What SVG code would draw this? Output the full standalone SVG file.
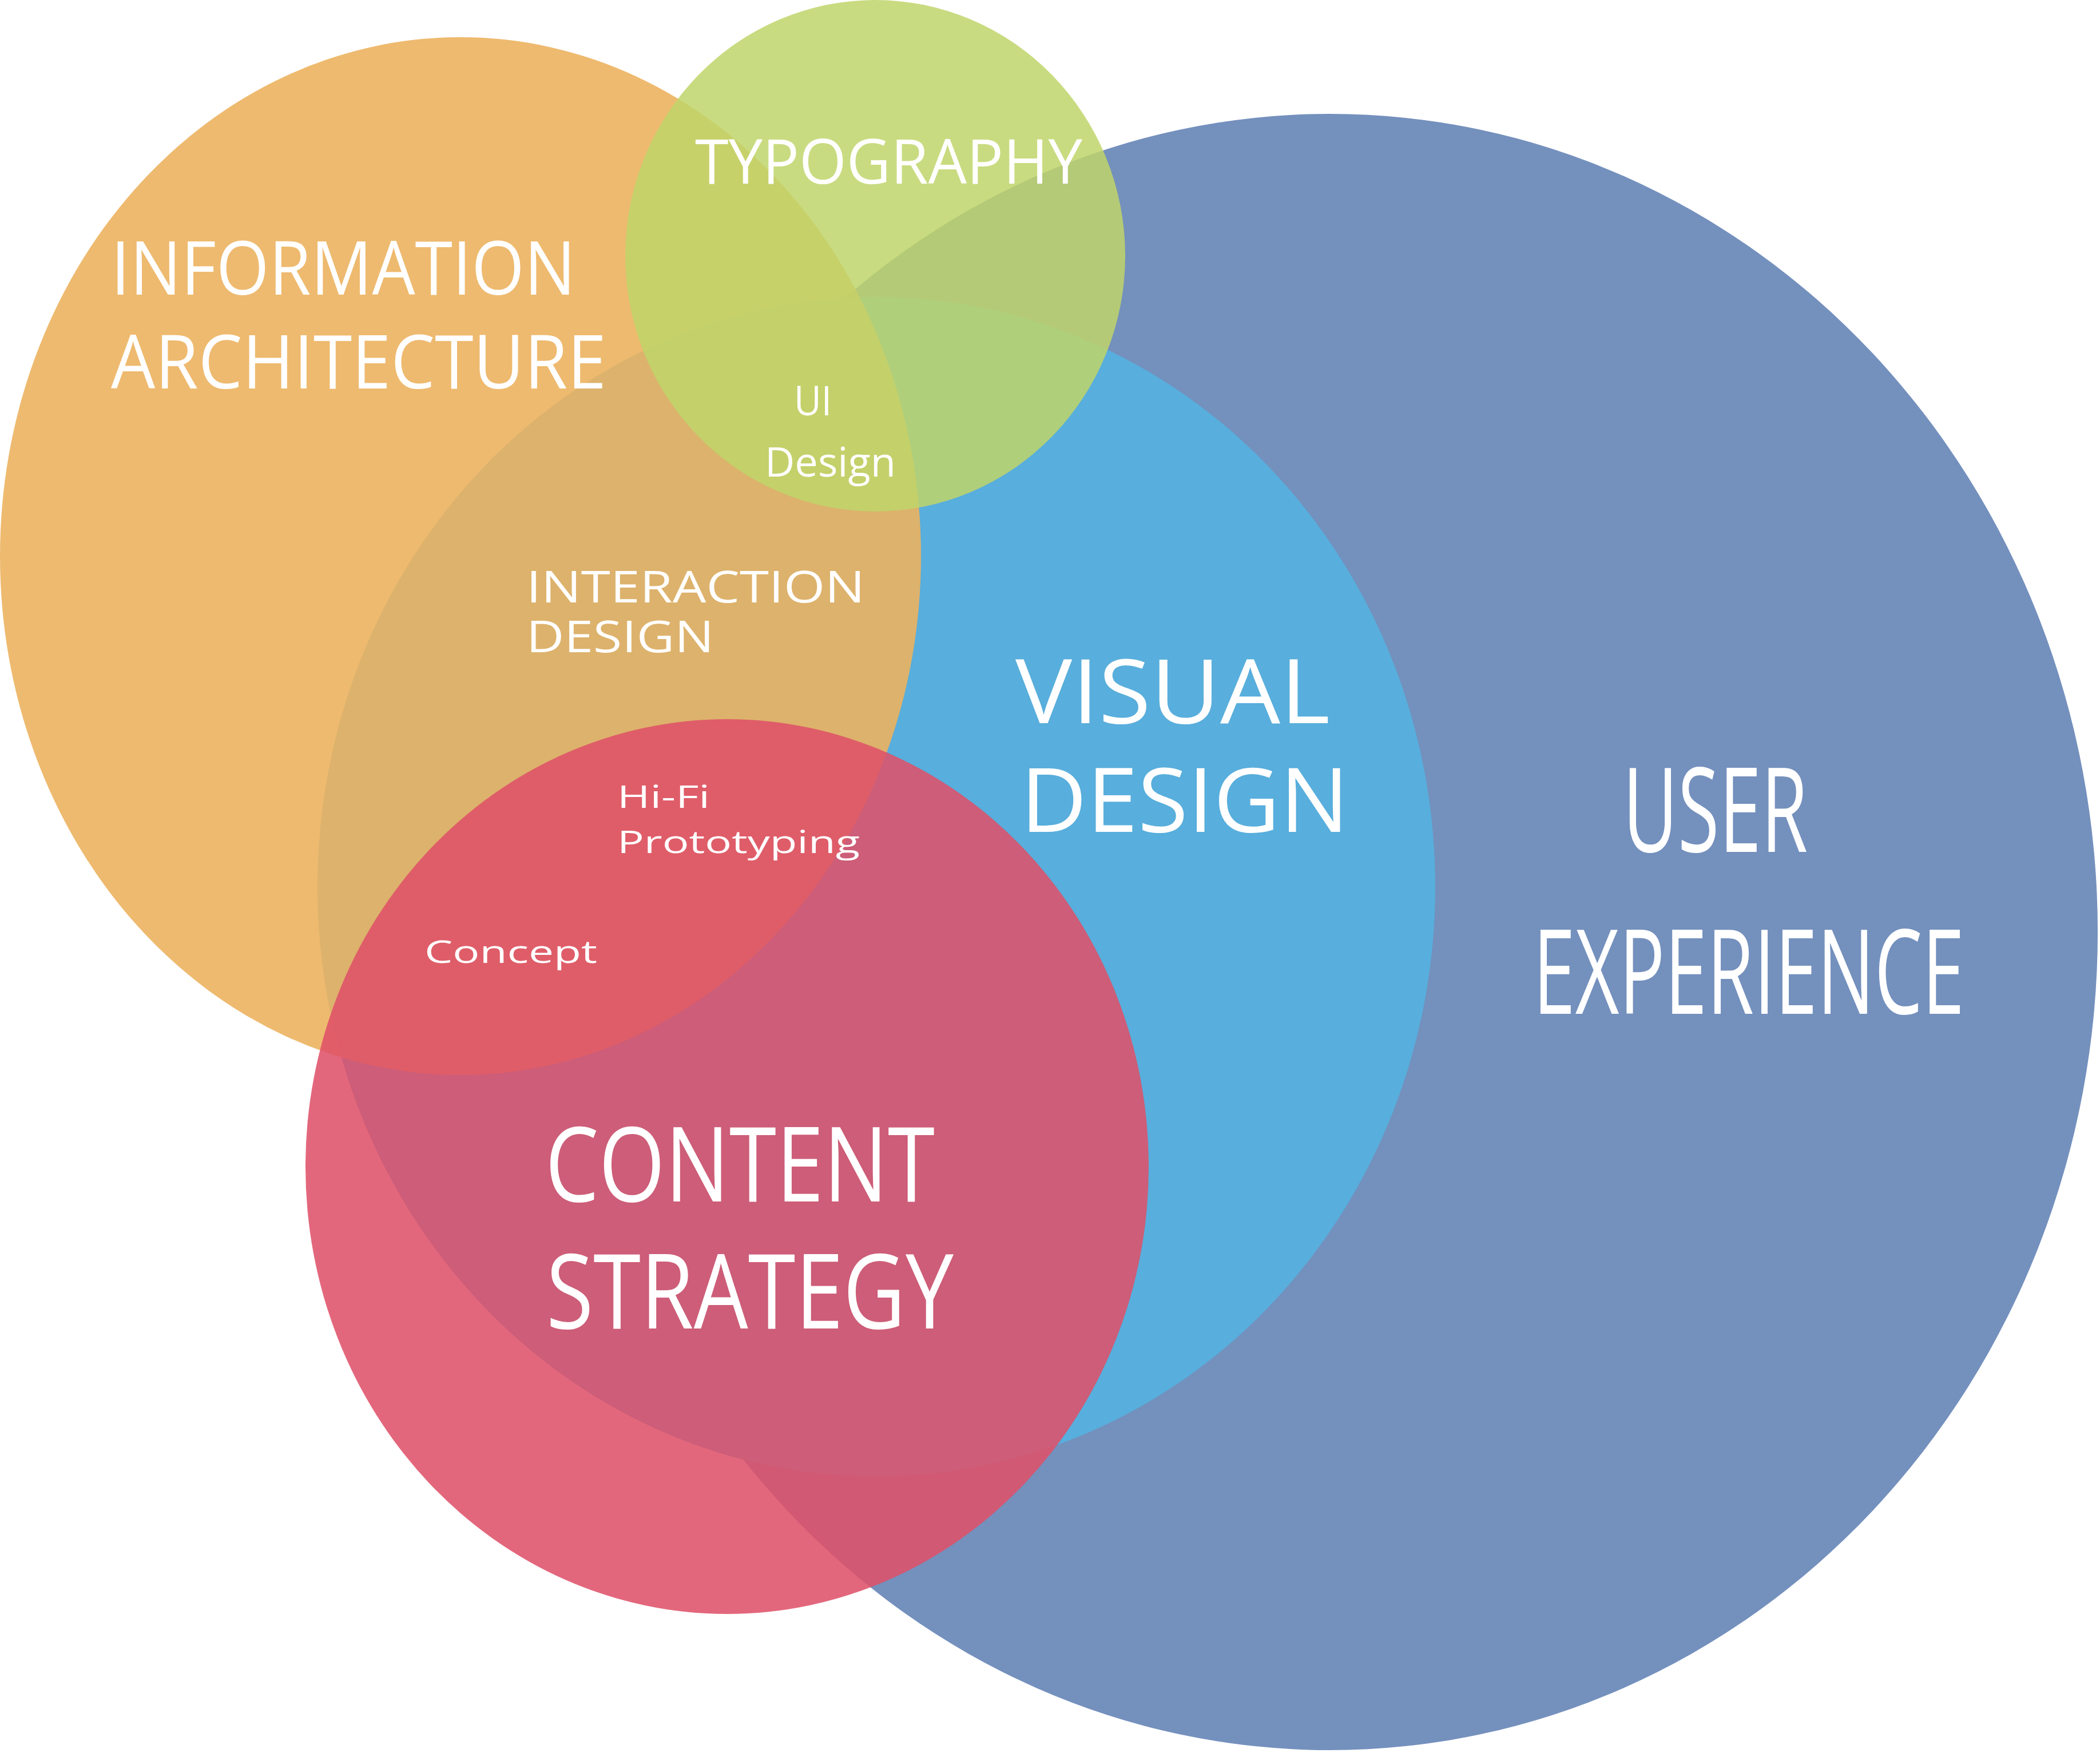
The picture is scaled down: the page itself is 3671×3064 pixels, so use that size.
<svg xmlns="http://www.w3.org/2000/svg" width="3671" height="3064" viewBox="0 0 3671 3064">
<style>
text{font-family:"Open Sans","Liberation Sans",sans-serif;fill:#fff}
</style>
<rect width="3671" height="3064" fill="#fff"/>
<g id="ux"><ellipse cx="2325" cy="1629" rx="1342" ry="1430" fill="#7490bd"/></g>
<g id="visual"><ellipse cx="1532" cy="1550" rx="977" ry="1031" fill="#58aedc"/></g>
<g id="ia"><ellipse cx="805" cy="972" rx="805" ry="907" fill="#ecb35f" fill-opacity="0.9"/></g>
<g id="typo"><ellipse cx="1530" cy="447" rx="437" ry="447" fill="#bfd56a" fill-opacity="0.85"/></g>
<g id="content"><ellipse cx="1271" cy="2039" rx="737" ry="782" fill="#df5069" fill-opacity="0.87"/></g>
<g id="connectors"/>
<g id="labels">
<text x="194" y="515" font-size="130" textLength="812" lengthAdjust="spacingAndGlyphs">INFORMATION</text>
<text x="194" y="679" font-size="130" textLength="866" lengthAdjust="spacingAndGlyphs">ARCHITECTURE</text>
<text x="1215" y="321" font-size="108" textLength="677" lengthAdjust="spacingAndGlyphs">TYPOGRAPHY</text>
<text x="1388" y="726" font-size="72" textLength="66" lengthAdjust="spacingAndGlyphs">UI</text>
<text x="1337" y="833" font-size="72" textLength="229" lengthAdjust="spacingAndGlyphs">Design</text>
<text x="920" y="1053" font-size="76" textLength="592" lengthAdjust="spacingAndGlyphs">INTERACTION</text>
<text x="920" y="1140" font-size="76" textLength="328" lengthAdjust="spacingAndGlyphs">DESIGN</text>
<text x="1775" y="1264" font-size="155" textLength="550" lengthAdjust="spacingAndGlyphs">VISUAL</text>
<text x="1784" y="1454" font-size="155" textLength="574" lengthAdjust="spacingAndGlyphs">DESIGN</text>
<text x="2837" y="1489" font-size="205" textLength="323" lengthAdjust="spacingAndGlyphs">USER</text>
<text x="2680" y="1772" font-size="205" textLength="754" lengthAdjust="spacingAndGlyphs">EXPERIENCE</text>
<text x="1079" y="1412" font-size="54" textLength="162" lengthAdjust="spacingAndGlyphs">Hi-Fi</text>
<text x="1079" y="1491" font-size="54" textLength="424" lengthAdjust="spacingAndGlyphs">Prototyping</text>
<text x="742" y="1683" font-size="54" textLength="302" lengthAdjust="spacingAndGlyphs">Concept</text>
<text x="953" y="2100" font-size="182" textLength="681" lengthAdjust="spacingAndGlyphs">CONTENT</text>
<text x="955" y="2322" font-size="182" textLength="712" lengthAdjust="spacingAndGlyphs">STRATEGY</text>
</g>
</svg>
